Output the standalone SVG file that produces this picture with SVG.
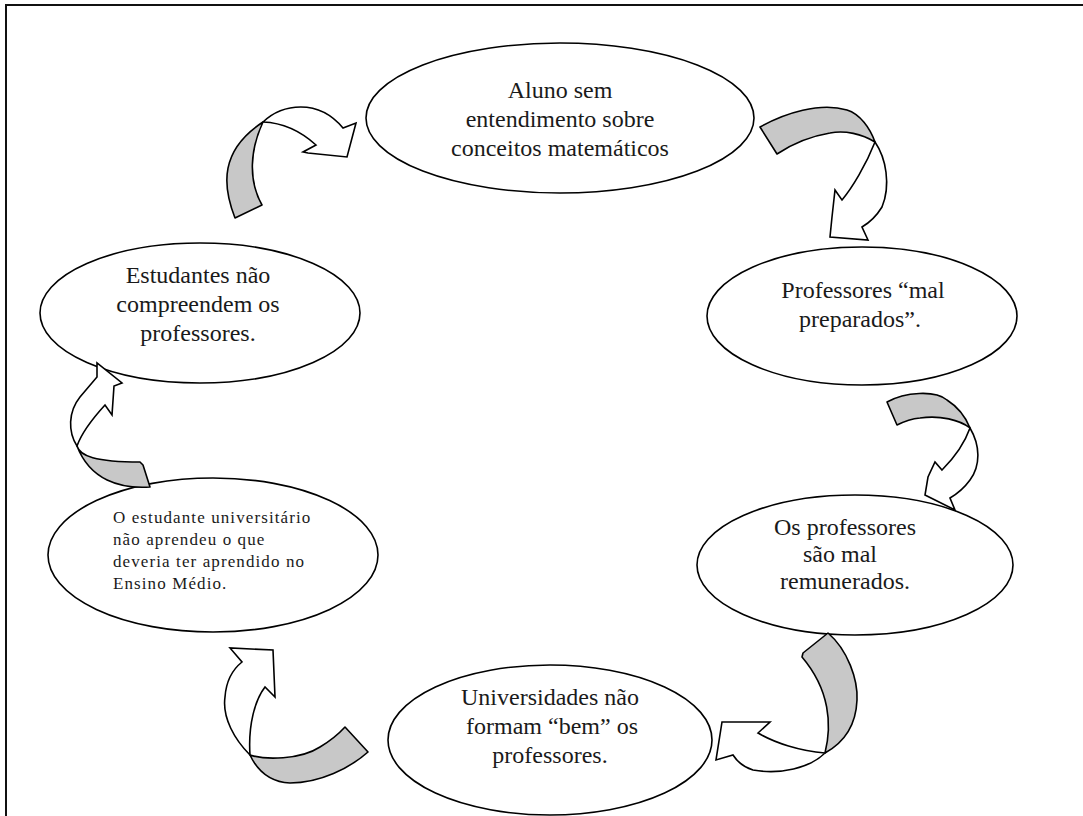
<svg xmlns="http://www.w3.org/2000/svg" width="1083" height="816" viewBox="0 0 1083 816">
<style>
.n{fill:#fff;stroke:#000;stroke-width:1.6}
.t{font-size:24px;fill:#1a1a1a;text-anchor:middle}
.s{font-size:17px;letter-spacing:1.1px;fill:#1a1a1a}
.g{fill:#c8c8c8;stroke:#000;stroke-width:1.6;stroke-linejoin:round}
.w{fill:#fff;stroke:#000;stroke-width:1.6;stroke-linejoin:miter}
</style>
<rect width="1083" height="816" fill="#fff"/>
<path d="M6,816 V5 H1083" fill="none" stroke="#111" stroke-width="2"/>
<g font-family="'Liberation Serif', 'Times New Roman', 'DejaVu Serif', serif">
<g id="n1"><ellipse class="n" cx="560" cy="118" rx="194" ry="75"/>
<text class="t" x="560" y="98">Aluno sem</text><text class="t" x="560" y="127">entendimento sobre</text><text class="t" x="560" y="156">conceitos matemáticos</text></g>
<g id="n2"><ellipse class="n" cx="862" cy="316" rx="155" ry="69"/>
<text class="t" x="863" y="298">Professores “mal</text><text class="t" x="860" y="327">preparados”.</text></g>
<g id="n3"><ellipse class="n" cx="855" cy="565" rx="158" ry="70"/>
<text class="t" x="845" y="535">Os professores</text><text class="t" x="840" y="562">são mal</text><text class="t" x="845" y="589">remunerados.</text></g>
<g id="n4"><ellipse class="n" cx="550" cy="740" rx="162" ry="75"/>
<text class="t" x="550" y="705">Universidades não</text><text class="t" x="552" y="734">formam “bem” os</text><text class="t" x="550" y="763">professores.</text></g>
<g id="n5"><ellipse class="n" cx="213" cy="555" rx="165" ry="77"/>
<text class="s" x="113" y="523">O estudante universitário</text><text class="s" x="113" y="545">não aprendeu o que</text><text class="s" x="113" y="567">deveria ter aprendido no</text><text class="s" x="113" y="589">Ensino Médio.</text></g>
<g id="n6"><ellipse class="n" cx="200" cy="313" rx="160" ry="70"/>
<text class="t" x="198" y="283">Estudantes não</text><text class="t" x="198" y="312">compreendem os</text><text class="t" x="198" y="341">professores.</text></g>
</g>
<g id="connectors">
<path class="g" d="M235,218 C222,185 220,150 263,122 C250,150 248,180 262,205 Z"/>
<path class="w" d="M263,122 C282,104 318,98 343,128 L356,123 L347,157 L308,153 L303,152 L316,145 C305,135 288,123 263,122 Z"/>
<path class="g" d="M760,127 C785,113 820,102 847,110 C860,114 870,128 875,142 C862,134 845,130 830,133 C812,136 792,144 777,154 Z"/>
<path class="w" d="M875,142 C886,158 891,185 882,207 Q874,220 862,227 L868,240 L830,237 L832,217 L835,190 L842,200 C852,188 866,165 875,142 Z"/>
<path class="g" d="M887,402 C905,392 935,390 947,400 C958,407 966,418 970,428 C960,420 940,415 920,418 C910,419 903,422 897,425 Z"/>
<path class="w" d="M970,428 C980,445 981,465 970,480 Q962,491 950,498 L955,510 L925,495 L928,477 L935,462 L942,470 C952,460 964,445 970,428 Z"/>
<path class="g" d="M803,653 L828,633 C848,650 858,680 857,700 C856,725 845,742 825,753 C832,725 830,690 802,657 Z"/>
<path class="w" d="M825,753 C810,768 780,775 753,770 Q740,766 733,755 L716,760 L722,722 L770,722 L758,733 C775,743 800,751 825,753 Z"/>
<path class="g" d="M250,755 C265,760 300,760 320,747 Q335,738 345,727 L368,752 C350,768 320,783 290,783 C270,782 258,772 250,755 Z"/>
<path class="w" d="M250,755 C235,740 222,718 225,697 C226,683 232,670 242,662 L230,648 L273,650 L275,697 L265,687 C255,700 248,725 250,755 Z"/>
<path class="g" d="M77,446 C80,456 95,462 140,462 L143,465 L150,487 C120,489 90,480 77,446 Z"/>
<path class="w" d="M77,446 C68,432 68,412 80,397 L97,377 L97,363 L122,383 L114,386 L112,415 L105,405 C94,417 82,432 77,446 Z"/>
</g>
</svg>
